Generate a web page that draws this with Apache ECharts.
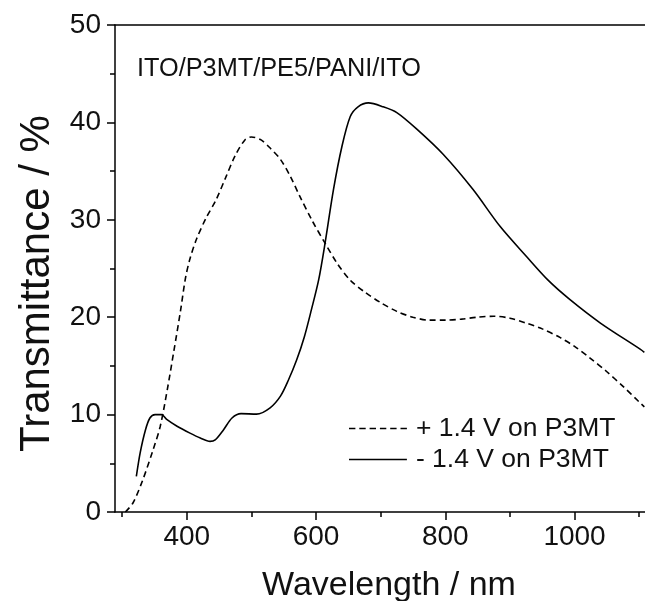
<!DOCTYPE html>
<html>
<head>
<meta charset="utf-8">
<script src="https://cdn.jsdelivr.net/npm/echarts@6/dist/echarts.min.js"></script>
<style>html,body{margin:0;padding:0;background:#fff}#c{width:645px;height:601px}</style>
</head>
<body>
<div id="c"></div>
<script>
// + 1.4 V on P3MT (dashed)
const posWavelength = [305, 317, 332, 348, 359, 370, 380, 390, 398, 405, 415, 430, 445, 460, 475, 490, 500, 515, 530, 545, 560, 575, 595, 614, 633, 653, 675, 700, 725, 750, 775, 800, 825, 850, 875, 900, 925, 950, 978, 1000, 1024, 1050, 1075, 1100, 1108];
const posTrans      = [0.0, 0.95, 3.3, 6.4, 8.8, 12.6, 16.5, 20.5, 24.0, 26.0, 28.0, 30.2, 32.0, 34.3, 36.6, 38.2, 38.5, 38.2, 37.3, 36.2, 34.5, 32.4, 29.8, 27.6, 25.5, 23.8, 22.6, 21.5, 20.6, 20.0, 19.7, 19.7, 19.8, 20.0, 20.1, 19.9, 19.4, 18.8, 17.9, 17.0, 15.8, 14.4, 12.9, 11.3, 10.8];
// - 1.4 V on P3MT (solid)
const negWavelength = [322, 328, 336, 343, 351, 361, 369, 385, 405, 421, 436, 444, 457, 470, 484, 508, 529, 545, 557, 570, 582, 593, 604, 614, 627, 640, 653, 665, 681, 704, 725, 756, 797, 843, 885, 926, 959, 993, 1040, 1102, 1108];
const negTrans      = [3.65, 6.1, 8.4, 9.65, 10.0, 10.0, 9.5, 8.8, 8.1, 7.6, 7.25, 7.4, 8.45, 9.65, 10.1, 10.05, 10.7, 11.9, 13.5, 15.6, 18.0, 20.8, 23.8, 27.6, 33.1, 37.5, 40.6, 41.6, 42.0, 41.6, 41.0, 39.3, 36.7, 33.1, 29.3, 26.2, 23.8, 21.8, 19.4, 16.7, 16.4];
const xMajorTicks = [400, 600, 800, 1000];
const xMinorTicks = [300, 500, 700, 900, 1100];
const seriesNames = ['+ 1.4 V on P3MT', '- 1.4 V on P3MT'];
const sampleLabel = 'ITO/P3MT/PE5/PANI/ITO';

const FONT = 'Liberation Sans, Arial, sans-serif';
const zip = (a, b) => a.map((v, i) => [v, b[i]]);
const chart = echarts.init(document.getElementById('c'), null, {renderer: 'canvas'});
const lineAxis = {lineStyle: {color: '#000', width: 1.5}};
const dashIcon = 'path://M0,0H6.4V1.5H0Z M10.3,0H16.7V1.5H10.3Z M20.6,0H27V1.5H20.6Z M30.9,0H37.3V1.5H30.9Z M41.2,0H47.6V1.5H41.2Z M51.5,0H57.9V1.5H51.5Z';
const solidIcon = 'path://M0,0H57.9V1.5H0Z';
chart.setOption({
  animation: false,
  backgroundColor: '#fff',
  grid: {left: 115, right: 0, top: 25, bottom: 89, containLabel: false, outerBoundsMode: 'none'},
  xAxis: [
    {
      type: 'value', min: 289, max: 1109, position: 'bottom',
      name: 'Wavelength / nm', nameLocation: 'middle', nameGap: 57,
      nameTextStyle: {fontFamily: FONT, fontSize: 34, color: '#111', padding: [0, 0, 0, 18]},
      axisLine: lineAxis,
      axisTick: {show: true, inside: false, length: 8, lineStyle: {color: '#000', width: 1.5}, customValues: xMajorTicks},
      axisLabel: {fontFamily: FONT, fontSize: 28, color: '#111', margin: 11, customValues: xMajorTicks, formatter: v => String(v)},
      splitLine: {show: false}
    },
    {
      type: 'value', min: 289, max: 1109, position: 'bottom',
      axisLine: {show: false},
      axisTick: {show: true, inside: false, length: 5, lineStyle: {color: '#000', width: 1.5}, customValues: xMinorTicks},
      axisLabel: {show: false},
      splitLine: {show: false}
    },
    {
      type: 'value', min: 289, max: 1109, position: 'top',
      axisLine: lineAxis, axisTick: {show: false}, axisLabel: {show: false}, splitLine: {show: false}
    }
  ],
  yAxis: {
    type: 'value', min: 0, max: 50, interval: 10,
    name: 'Transmittance / %', nameLocation: 'middle', nameGap: 57,
    nameTextStyle: {fontFamily: FONT, fontSize: 42, color: '#111', padding: [0, 30, 0, 0]},
    axisLine: {show: true, lineStyle: {color: '#000', width: 1.5}},
    axisTick: {show: true, inside: false, length: 8, lineStyle: {color: '#000', width: 1.5}},
    minorTick: {show: true, splitNumber: 2, length: 5, lineStyle: {color: '#000', width: 1.5}},
    axisLabel: {fontFamily: FONT, fontSize: 28, color: '#111', margin: 14},
    splitLine: {show: false}
  },
  legend: {
    orient: 'vertical', left: 344, top: 410, itemWidth: 57.9, itemHeight: 1.5, itemGap: 4,
    textStyle: {fontFamily: FONT, fontSize: 26.5, color: '#111', padding: [0, 0, 0, 4]},
    data: [
      {name: seriesNames[0], icon: dashIcon},
      {name: seriesNames[1], icon: solidIcon}
    ]
  },
  graphic: [{
    type: 'text', left: 137, top: 57,
    style: {text: sampleLabel, fontFamily: FONT, fontSize: 25.3, fill: '#111'}
  }],
  series: [
    {
      name: seriesNames[0], type: 'line', xAxisIndex: 0, smooth: 0.3, symbol: 'none',
      lineStyle: {color: '#000', width: 1.6, type: [6, 4]},
      itemStyle: {color: '#000'},
      data: zip(posWavelength, posTrans)
    },
    {
      name: seriesNames[1], type: 'line', xAxisIndex: 0, smooth: 0.3, symbol: 'none',
      lineStyle: {color: '#000', width: 1.6, type: 'solid'},
      itemStyle: {color: '#000'},
      data: zip(negWavelength, negTrans)
    }
  ]
});
</script>
</body>
</html>
